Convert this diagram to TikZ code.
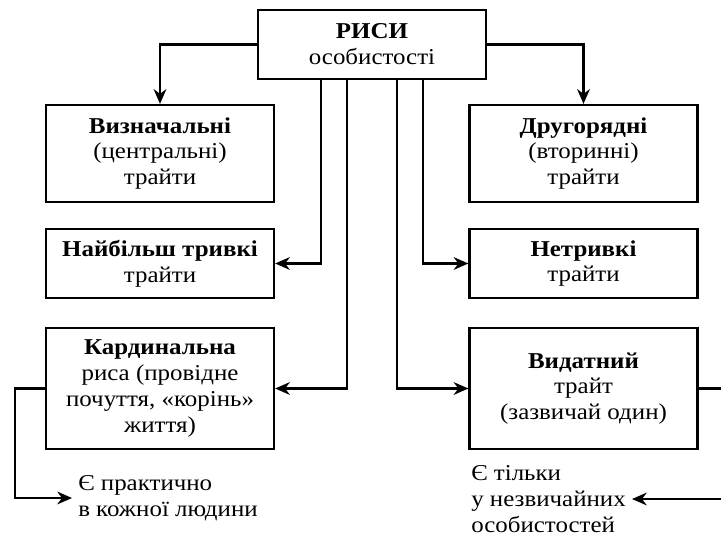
\documentclass[tikz,border=0pt]{standalone}
\usepackage{fontspec}
\setmainfont[FakeStretch=1.1]{Liberation Serif}
\usetikzlibrary{arrows.meta}
\begin{document}
\begin{tikzpicture}[x=0.75pt, y=-0.75pt,
  box/.style={draw, line width=1.7pt, minimum width=228*0.75pt, align=center,
    inner sep=0pt, font=\fontsize{17}{19.4}\selectfont},
  note/.style={align=left, inner sep=0pt, anchor=west,
    font=\fontsize{17}{19.4}\selectfont},
  link/.style={line width=1.7pt, -{Stealth[length=11pt, width=9.5pt, inset=3.5pt]}}]
  \useasboundingbox (0,0) rectangle (721,536);
  \clip (0,0) rectangle (721,536);

  % central box
  \node[box, minimum height=69*0.75pt] (top) at (372,44.5)
    {\textbf{РИСИ}\\особистості};

  % left column
  \node[box, minimum height=97*0.75pt] (def) at (160,153.5)
    {\textbf{Визначальні}\\(центральні)\\трайти};
  \node[box, minimum height=69*0.75pt] (dur) at (160,263.5)
    {\textbf{Найбільш тривкі}\\трайти};
  \node[box, minimum height=121*0.75pt] (card) at (160,388.5)
    {\textbf{Кардинальна}\\риса (провідне\\почуття, «корінь»\\життя)};

  % right column
  \node[box, minimum height=97*0.75pt] (sec) at (583.5,153.5)
    {\textbf{Другорядні}\\(вторинні)\\трайти};
  \node[box, minimum height=69*0.75pt] (ndur) at (583.5,263.5)
    {\textbf{Нетривкі}\\трайти};
  \node[box, minimum height=121*0.75pt] (prom) at (583.5,388.5)
    {\textbf{Видатний}\\трайт\\(зазвичай один)};

  % free notes
  \node[note] (pract) at (78,498) {Є практично\\в кожної людини};
  \node[note] (rare) at (471,499) {Є тільки\\у незвичайних\\особистостей};

  % helper points on the bottom edge of the central box
  \coordinate (t1) at (321,79);
  \coordinate (t2) at (347,79);
  \coordinate (t3) at (397,79);
  \coordinate (t4) at (423,79);
  \coordinate (lc) at (15,0);
  \coordinate (rc) at (730,0);

  % connectors
  \draw[link] (top.west) -| (def.north);
  \draw[link] (top.east) -| (sec.north);
  \draw[link] (t1) |- (dur.east);
  \draw[link] (t2) |- (card.east);
  \draw[link] (t3) |- (prom.west);
  \draw[link] (t4) |- (ndur.west);
  \draw[link] (card.west) -| (lc |- pract.west) -- ([xshift=-4.5pt]pract.west);
  \draw[link] (prom.east) -| (rc |- rare.east) -- ([xshift=4.5pt]rare.east);
\end{tikzpicture}
\end{document}
